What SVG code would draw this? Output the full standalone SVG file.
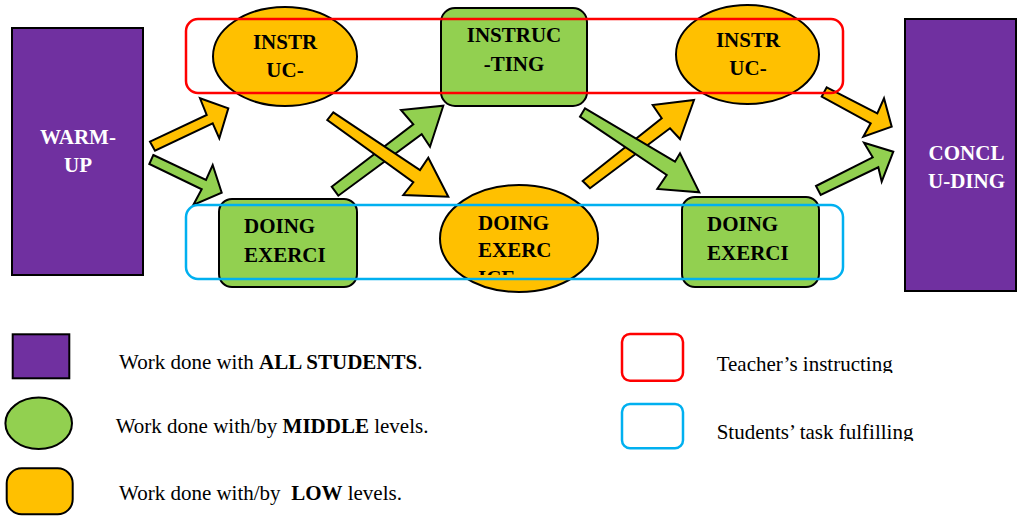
<svg xmlns="http://www.w3.org/2000/svg" width="1018" height="516" viewBox="0 0 1018 516">
<style>
.all{fill:#7030A0;stroke:#000;stroke-width:2}
.mid{fill:#92D050;stroke:#000;stroke-width:2}
.low{fill:#FFC000;stroke:#000;stroke-width:2}
.arr{stroke:#000;stroke-width:2;stroke-linejoin:miter}
.t{font-family:"Liberation Serif","Times New Roman",serif;font-weight:bold;font-size:21px;fill:#000}
.w{fill:#fff}
.lg{font-family:"Liberation Serif","Times New Roman",serif;font-size:21px;fill:#000}
.teach{fill:none;stroke:#FF0000;stroke-width:2.5}
.stud{fill:none;stroke:#00B0F0;stroke-width:2.5}
</style>
<defs>
<clipPath id="clipEx"><rect x="440" y="180" width="160" height="95"/></clipPath>
<clipPath id="clipL1"><rect x="700" y="340" width="300" height="33"/></clipPath>
<clipPath id="clipL2"><rect x="700" y="410" width="300" height="31"/></clipPath>
</defs>
<rect width="1018" height="516" fill="#fff"/>

<g id="connectors">
<polygon class="arr" fill="#FFC000" points="150,141.7 206.7,115 200,98.3 228.3,108.3 219.3,138.3 212.7,123.3 155,150.7"/>
<polygon class="arr" fill="#92D050" points="153.3,155 206,180 212.7,165 221.7,192.7 193.3,205 201.7,189.3 149.3,164"/>
<polygon class="arr" fill="#92D050" points="331.7,186.7 413.3,124.3 401,110 443.3,105.7 430,146.7 421.7,134.3 338.3,195.7"/>
<polygon class="arr" fill="#FFC000" points="333.3,112.3 420,170 428.3,157.7 448.3,196.7 403.3,195 413.3,182.3 327.3,120"/>
<polygon class="arr" fill="#FFC000" points="582.7,181 661.7,118.3 652.7,105 694,100 680,139 670,128.3 590,188.3"/>
<polygon class="arr" fill="#92D050" points="585,108.3 675,161.7 680,153.3 699.3,192.3 657.3,189 666.7,175 580,116.7"/>
<polygon class="arr" fill="#FFC000" points="826.7,87.3 877.3,113.3 884,98.3 891.7,126.7 863.3,136.7 870.7,123.3 821.7,96.7"/>
<polygon class="arr" fill="#92D050" points="816,186 872.7,157.3 864,142.7 893.3,151.7 881.7,181.7 878.3,167.3 820.7,195"/>
</g>

<g id="warmup">
<rect class="all" x="12" y="28" width="131" height="247"/>
<text class="t w" text-anchor="middle" x="78" y="144">WARM-</text>
<text class="t w" text-anchor="middle" x="78" y="172">UP</text>
</g>

<g id="instr1">
<ellipse class="low" cx="285" cy="56.5" rx="72" ry="49.5"/>
<text class="t" text-anchor="middle" x="285" y="49">INSTR</text>
<text class="t" text-anchor="middle" x="285" y="77">UC-</text>
</g>

<g id="instructing">
<rect class="mid" x="441" y="8" width="146" height="98" rx="14"/>
<text class="t" text-anchor="middle" x="514" y="42">INSTRUC</text>
<text class="t" text-anchor="middle" x="514" y="71">-TING</text>
</g>

<g id="instr2">
<ellipse class="low" cx="747.5" cy="54.5" rx="71.5" ry="49.5"/>
<text class="t" text-anchor="middle" x="748" y="47">INSTR</text>
<text class="t" text-anchor="middle" x="748" y="75">UC-</text>
</g>

<g id="doing1">
<rect class="mid" x="219" y="199" width="138" height="88" rx="13"/>
<text class="t" x="244" y="233">DOING</text>
<text class="t" x="244" y="262">EXERCI</text>
</g>

<g id="doing2">
<ellipse class="low" cx="519" cy="238.5" rx="79" ry="53.5"/>
<g clip-path="url(#clipEx)">
<text class="t" x="478" y="230">DOING</text>
<text class="t" x="478" y="257">EXERC</text>
<text class="t" x="478" y="285">ICE</text>
</g>
</g>

<g id="doing3">
<rect class="mid" x="682" y="197" width="137" height="90" rx="13"/>
<text class="t" x="707" y="231">DOING</text>
<text class="t" x="707" y="260">EXERCI</text>
</g>

<g id="concluding">
<rect class="all" x="905" y="19" width="111" height="272"/>
<text class="t w" text-anchor="middle" x="966.5" y="160">CONCL</text>
<text class="t w" text-anchor="middle" x="966.5" y="188">U-DING</text>
</g>

<g id="teacher-group">
<rect class="teach" x="186" y="19" width="657" height="74" rx="12"/>
</g>
<g id="students-group">
<rect class="stud" x="186" y="205" width="657" height="74" rx="12"/>
</g>

<g id="legend">
<rect class="all" x="12.7" y="334.3" width="56.6" height="44"/>
<text class="lg" x="119" y="369">Work done with <tspan font-weight="bold">ALL STUDENTS</tspan>.</text>
<ellipse class="mid" cx="38.7" cy="423.3" rx="33.3" ry="25.7"/>
<text class="lg" x="115.7" y="433">Work done with/by <tspan font-weight="bold">MIDDLE</tspan> levels.</text>
<rect class="low" x="6.7" y="468.3" width="66" height="46" rx="15"/>
<text class="lg" x="119" y="500" xml:space="preserve">Work done with/by  <tspan font-weight="bold">LOW</tspan> levels.</text>
<rect class="teach" x="622" y="334" width="61" height="46.7" rx="8"/>
<text class="lg" x="716.7" y="370.7" clip-path="url(#clipL1)">Teacher’s instructing</text>
<rect class="stud" x="622" y="404" width="61" height="44.3" rx="8"/>
<text class="lg" x="716.7" y="439" clip-path="url(#clipL2)">Students’ task fulfilling</text>
</g>
</svg>
